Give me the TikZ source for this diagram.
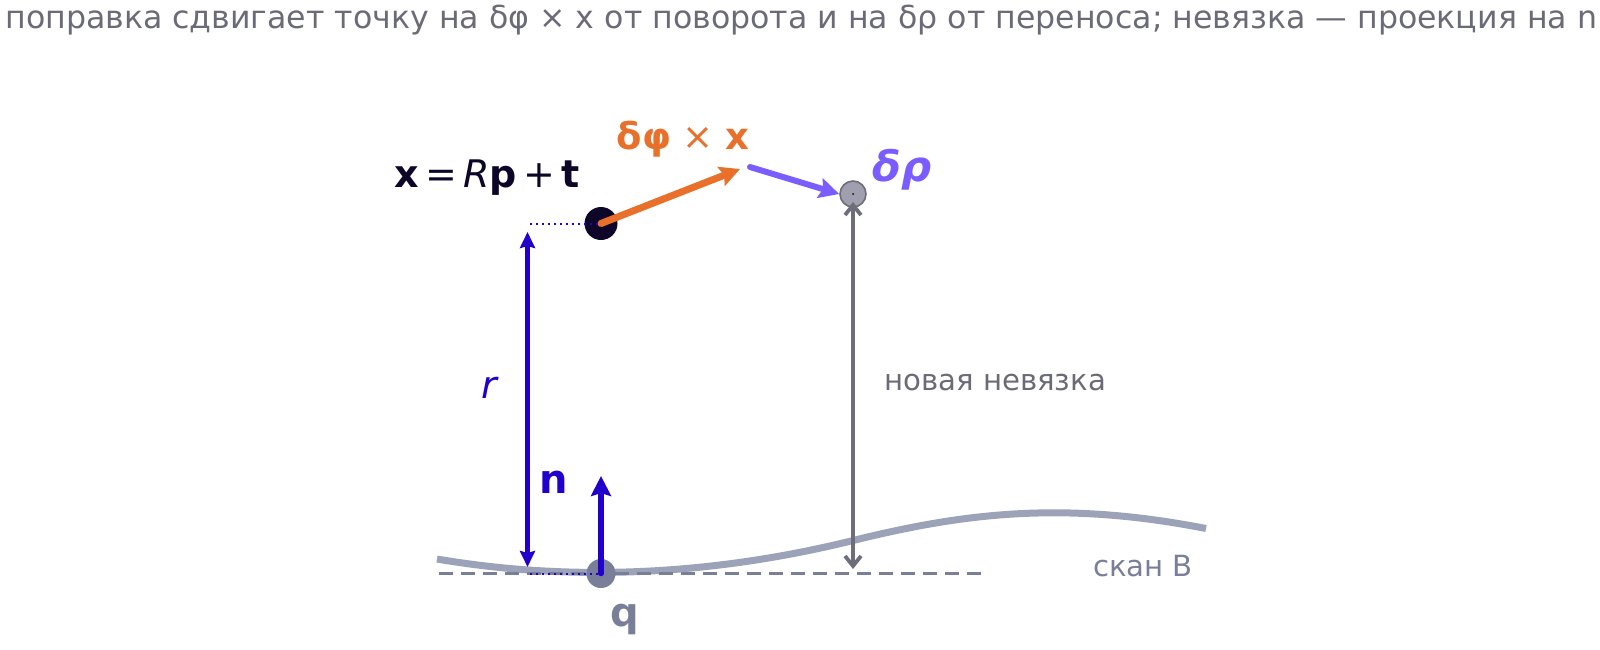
\documentclass[tikz,border=0pt]{standalone}
\usepackage{fontspec}
\setmainfont{DejaVu Sans}
\usetikzlibrary{arrows.meta}
\definecolor{titlegray}{HTML}{6B6B78}
\definecolor{ptdark}{HTML}{0D0628}
\definecolor{orng}{HTML}{E8702A}
\definecolor{purp}{HTML}{7B5CFF}
\definecolor{blu}{HTML}{2200CC}
\definecolor{agray}{HTML}{6E6E7A}
\definecolor{pgray}{HTML}{A09FB0}
\definecolor{qgray}{HTML}{7A7F99}
\definecolor{cgray}{HTML}{9CA3B8}
\tikzset{
  arr/.style={-{Stealth[length=10pt,width=10pt,inset=1.5pt]}, line cap=round},
  darr/.style={{Stealth[length=8pt,width=7.5pt,inset=1pt]}-{Stealth[length=8pt,width=7.5pt,inset=1pt]}},
  lbl/.style={inner sep=0pt, anchor=center},
}
\begin{document}
\begin{tikzpicture}[x=0.5pt,y=-0.5pt]
\useasboundingbox (0,0) rectangle (1600,649);
% title
\node[lbl, anchor=west, text=titlegray, font=\fontsize{15.8}{18}\selectfont] (title) at (5,20) {поправка сдвигает точку на δφ × x от поворота и на δρ от переноса; невязка — проекция на n};
% scan curve
\draw[cgray, line width=3.5pt] (437,559) .. controls (560,580) and (700,578) .. (851,541) .. controls (960,514) and (1060,500) .. (1206,528.5);
% dashed tangent
\coordinate (dl) at (439,573.5);
\coordinate (dr) at (985,573.5);
\draw[qgray, line width=1.9pt, dash pattern=on 7pt off 4pt] (dl) -- (dr);
% points
\node[circle, fill=ptdark, minimum size=16.5pt, inner sep=0pt] (x) at (601,223.5) {};
\node[circle, fill=pgray, draw=agray, line width=0.8pt, minimum size=13pt, inner sep=0pt] (xn) at (853,194) {};
\fill[ptdark] (xn.center) circle (0.5pt);
\node[circle, fill=qgray, minimum size=14.5pt, inner sep=0pt] (q) at (601,573.5) {};
% dotted guides
\coordinate (rt) at (530,223.5);
\coordinate (rb) at (530,573.5);
\draw[blu, line width=1pt, dotted] (rt) -- (x.center);
\draw[blu, line width=1pt, dotted] (rb) -- (q.center);
% r arrow
\coordinate (rtop) at (527.5,232);
\coordinate (rbot) at (527.5,567);
\draw[blu, line width=2.5pt, darr] (rtop) -- (rbot);
% n arrow
\coordinate (ntip) at (601,476);
\draw[blu, line width=2.7pt, arr] (q.center) -- (ntip);
% orange
\coordinate (ot) at (740,169);
\draw[orng, line width=3.5pt, arr] (x.center) -- (ot);
% purple
\coordinate (ps) at (750,167);
\draw[purp, line width=3pt, arr] (ps) -- (xn.west);
% gray residual
\coordinate (gb) at (853,569);
\draw[agray, line width=1.9pt, {Straight Barb[length=5pt,width=8pt]}-{Straight Barb[length=5pt,width=8pt]}] (853,202) -- (gb);
% labels
\node[lbl, text=ptdark, font=\fontsize{19}{22}\selectfont] (lx) at (487,178) {\textbf{x}\,=\,\textit{R}\textbf{p}\,+\,\textbf{t}};
\node[lbl, text=orng, font=\fontsize{18.5}{22}\selectfont] (lo) at (683,139) {\textbf{δφ} × \textbf{x}};
\node[lbl, text=purp, font=\fontsize{21}{24}\selectfont, anchor=west] (lp) at (872,170) {\textbf{\textit{δρ}}};
\node[lbl, text=blu, font=\fontsize{19}{22}\selectfont] (lr) at (490,388) {\textit{r}};
\node[lbl, text=blu, font=\fontsize{20}{22}\selectfont\bfseries] (ln) at (554,482) {n};
\node[lbl, text=qgray, font=\fontsize{20}{22}\selectfont\bfseries] (lq) at (625,619) {q};
\node[lbl, text=titlegray, font=\fontsize{14.6}{16}\selectfont] (lnv) at (995,383) {новая невязка};
\node[lbl, text=qgray, font=\fontsize{14.6}{16}\selectfont] (lsc) at (1143,566) {скан B};
\end{tikzpicture}
\end{document}
